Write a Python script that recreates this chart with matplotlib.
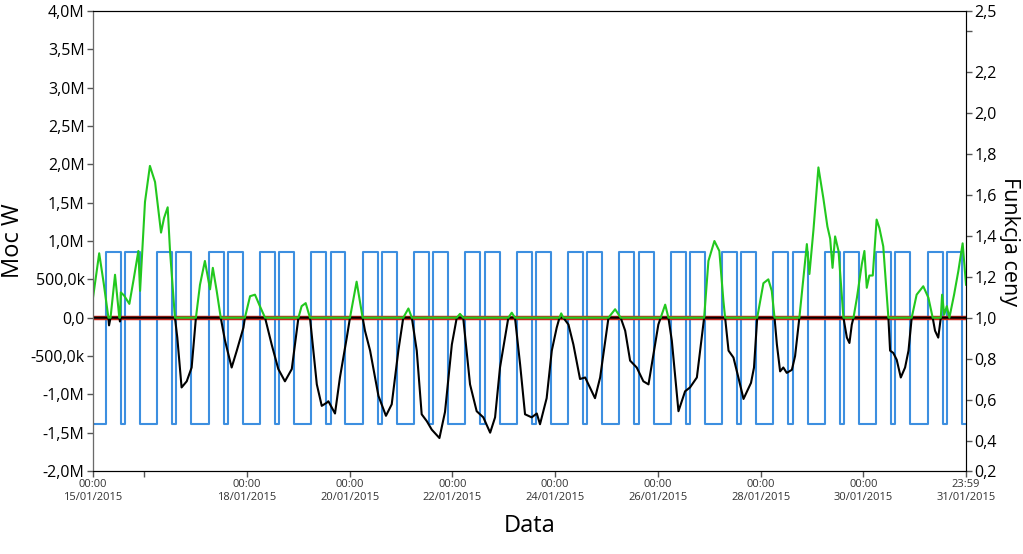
import matplotlib
matplotlib.use("Agg")
import matplotlib.pyplot as plt
import numpy as np

plt.rcParams['font.family'] = ['Open Sans', 'DejaVu Sans']

# net power [MW], time in hours from 15/01/2015 00:00
hours = [0, 2.9, 5.0, 7.2, 7.5, 8.2, 10.3, 12.3, 12.6, 13.0, 14.5, 17, 19, 21.2, 22,
         24.3, 26.6, 29, 31.8, 33.2, 34.9, 36, 38.3, 39.4, 41.4, 43.8, 46.1, 48.1,
         50, 52.3, 54.7, 56, 57.8, 59.7, 61.7, 64.8, 67.2, 70.3, 71, 73.4, 75.7, 78,
         80.4, 81.2, 83.5, 86.6, 89.7, 92.9, 96, 97.5, 99.4, 101.4, 104.6, 106.9,
         109.2, 110, 113.1, 115.4, 118.6, 120.1, 123.2, 126, 127.1, 129.5, 131.8,
         133.4, 136.9, 139.6, 142.7, 145, 147.4, 149, 151.3, 153.6, 156, 158.3,
         161.9, 164.5, 167.7, 170, 171.5, 173, 176.2, 179.3, 182.4, 185.6, 187.9,
         190.2, 194.1, 195.7, 197.2, 199.6, 201.9, 205, 207.4, 208.9, 212, 214.4,
         216.7, 218, 218.8, 219.8, 222.2, 224.5, 227.6, 230, 234.6, 237, 240.9, 244,
         246.6, 248.7, 251, 254.1, 257.2, 259.6, 261.9, 264.2, 265.3, 267.4, 268.9,
         270.5, 273.6, 276.7, 279, 282.2, 284.5, 285.6, 287.6, 290.4, 292.7, 294.6,
         295.4, 297, 299.3, 301.6, 304, 307.5, 308.9, 310.4, 313.3, 315.6, 317.2,
         318.5, 319.6, 321.1, 322.6, 324.2, 326.6, 328.1, 330.1, 332, 333.6, 334.8,
         336.7, 339, 341.3, 343.2, 344.5, 345.6, 346.8, 348.4, 350.7, 352.3, 353.5,
         354.6, 355.4, 357, 359.3, 360.5, 361.6, 362.8, 364.4, 366.2, 367.5, 369.3,
         370.6, 371.7, 372.5, 374, 375.6, 377.5, 379.5, 381.1, 382.6, 384.9, 388,
         390.4, 392.4, 393.5, 395, 396.2, 396.8, 397.8, 399, 400.2, 402.4, 404.4,
         406.4, 407.98]
net_mw = [0.26, 0.84, 0.45, 0, -0.10, 0, 0.56, 0, -0.05, 0.33, 0.29, 0.18, 0.5, 0.87, 0.35,
          1.51, 1.98, 1.77, 1.11, 1.30, 1.44, 0.87, 0, -0.26, -0.91, -0.83, -0.65, 0,
          0.43, 0.74, 0.37, 0.65, 0.35, 0, -0.30, -0.65, -0.43, -0.13, 0, 0.28, 0.30, 0.15,
          0, -0.09, -0.35, -0.67, -0.83, -0.67, 0, 0.15, 0.19, 0, -0.87, -1.15,
          -1.11, -1.09, -1.25, -0.78, -0.26, 0, 0.47, 0, -0.17, -0.43, -0.78,
          -1.02, -1.28, -1.13, -0.43, 0, 0.12, 0, -0.43, -1.26, -1.35, -1.46,
          -1.57, -1.23, -0.35, 0, 0.05, 0, -0.87, -1.22, -1.30, -1.50, -1.30,
          -0.65, 0, 0.065, 0, -0.61, -1.26, -1.30, -1.25, -1.39, -1.05, -0.43,
          -0.13, 0, 0.056, 0, -0.09, -0.35, -0.80, -0.78, -1.05, -0.78, 0, 0.11,
          0, -0.17, -0.56, -0.65, -0.83, -0.87, -0.48, -0.09, 0, 0.17, 0,
          -0.30, -1.22, -0.96, -0.91, -0.78, -0.26, 0, 0.74, 1.00, 0.87, 0.22,
          0, -0.43, -0.52, -0.78, -1.06, -0.85, -0.65, 0, 0.45, 0.50, 0.35,
          0, -0.35, -0.70, -0.65, -0.72, -0.68, -0.50, 0, 0.52, 0.96, 0.57,
          1.15, 1.96, 1.56, 1.19, 1.03, 0.65, 1.06, 0.87, 0, -0.26, -0.33,
          -0.09, 0, 0.26, 0.70, 0.87, 0.39, 0.55, 0.55, 1.28, 1.17, 0.93,
          0.43, 0, -0.43, -0.46, -0.55, -0.78, -0.65, -0.43, 0, 0.30, 0.41,
          0.26, 0, -0.17, -0.26, 0, 0.30, 0.04, 0.15, 0, 0.30, 0.61,
          0.97, 0.43]

# daily tariff zones (hour of day where zone starts) and price function level
zone_start = [0, 6, 13, 15, 22]
zone_price = [0.48, 1.32, 0.48, 1.32, 0.48]
n_days = 17

xtick_hours = [0, 24, 72, 120, 168, 216, 264, 312, 360, 407.98]
xtick_labels = ['00:00\n15/01/2015', '', '00:00\n18/01/2015', '00:00\n20/01/2015',
                '00:00\n22/01/2015', '00:00\n24/01/2015', '00:00\n26/01/2015',
                '00:00\n28/01/2015', '00:00\n30/01/2015', '23:59\n31/01/2015']
ytick_vals = [-2.0, -1.5, -1.0, -0.5, 0, 0.5, 1.0, 1.5, 2.0, 2.5, 3.0, 3.5, 4.0]
ytick_labels = ['-2,0M', '-1,5M', '-1,0M', '-500,0k', '0,0', '500,0k', '1,0M',
                '1,5M', '2,0M', '2,5M', '3,0M', '3,5M', '4,0M']

t = np.array(hours)
p = np.array(net_mw)

price_t = [d * 24 + h for d in range(n_days) for h in zone_start] + [n_days * 24 - 0.02]
price_v = zone_price * n_days + [zone_price[-1]]

fig = plt.figure(figsize=(10.23, 5.54), dpi=100)
ax = fig.add_axes([0.0909, 0.1498, 0.8534, 0.8303])
ax2 = ax.twinx()

ax.set_zorder(ax2.get_zorder() + 1)
ax.patch.set_visible(False)

ax2.step(price_t, price_v, where='post', color='#3d8fe0', lw=1.5)

ax.plot([0, t[-1]], [0, 0], color='#c8281e', lw=3.2, solid_capstyle='butt')
ax.plot(t, np.clip(p, None, 0), color='black', lw=1.5)
ax.plot(t, np.clip(p, 0, None), color='#22c81e', lw=1.5)

ax.set_xlim(0, 407.98)
ax.set_ylim(-2.0, 4.0)
ax2.set_ylim(0.252, 2.496)

ax.set_yticks(ytick_vals)
ax.set_yticklabels(ytick_labels, fontsize=11.5)
ax.set_xticks(xtick_hours)
ax.set_xticklabels(xtick_labels, fontsize=8, color='#333333')

r_ticks = [0.252, 0.4, 0.6, 0.8, 1.0, 1.2, 1.4, 1.6, 1.8, 2.0, 2.2, 2.4, 2.496]
r_labels = ['0,2', '0,4', '0,6', '0,8', '1,0', '1,2', '1,4', '1,6', '1,8', '2,0', '2,2', '', '2,5']
ax2.set_yticks(r_ticks)
ax2.set_yticklabels(r_labels, fontsize=11.5)

for a in (ax, ax2):
    a.tick_params(length=4, width=1, color='#555555', pad=2)
    for s in a.spines.values():
        s.set_color('black')
ax.spines['left'].set_color('#6a6a6a')
ax2.spines['right'].set_color('#6a6a6a')

ax.set_ylabel('Moc W', fontsize=17, labelpad=4)
ax.set_xlabel('Data', fontsize=17, labelpad=8)
ax2.set_ylabel('Funkcja ceny', fontsize=15.5, rotation=270, labelpad=17)

fig.savefig('out.png', dpi=100)
